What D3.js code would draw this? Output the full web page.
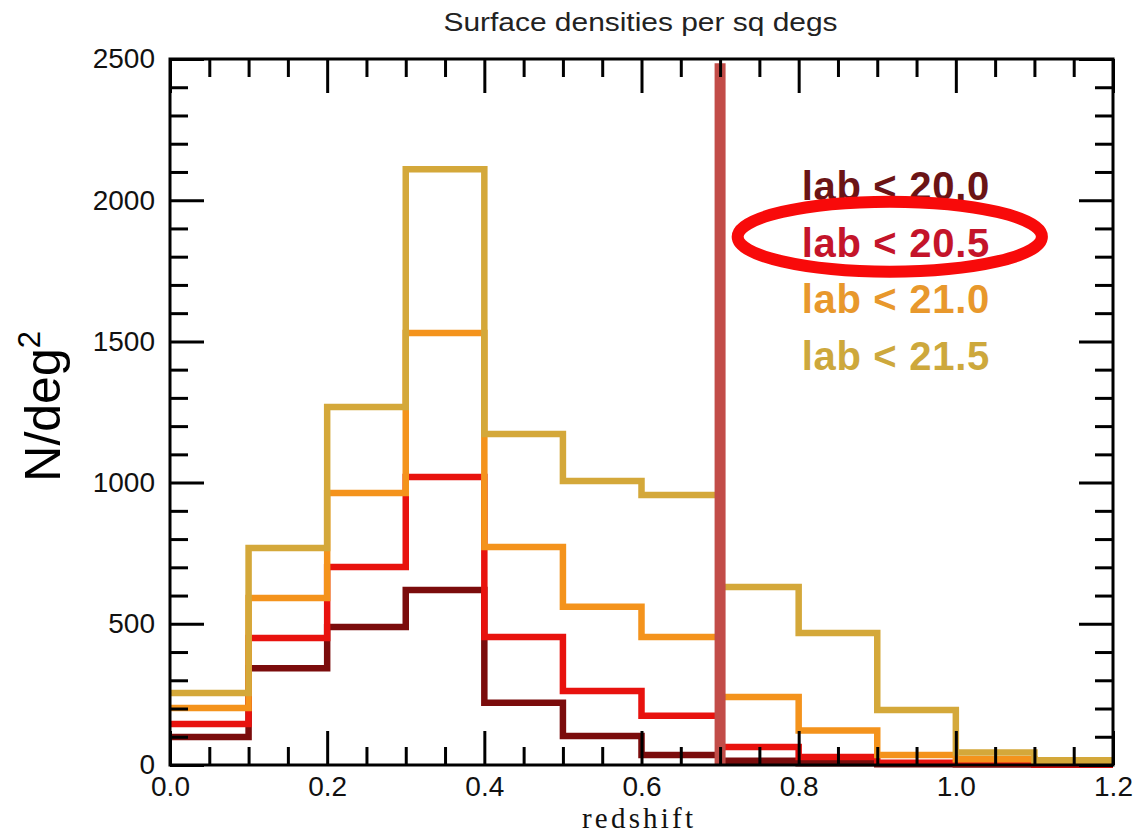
<!DOCTYPE html>
<html>
<head>
<meta charset="utf-8">
<script src="https://cdn.jsdelivr.net/npm/d3@7"></script>
<style>
  html, body { margin: 0; padding: 0; background: #fff; }
  svg { display: block; }
</style>
</head>
<body>
<svg id="chart" width="1138" height="833"></svg>
<script>
// ---------- data ----------
const binEdges = [0.0, 0.1, 0.2, 0.3, 0.4, 0.5, 0.6, 0.7, 0.8, 0.9, 1.0, 1.1, 1.2];
const lab200 = [99, 343, 489, 620, 220, 103, 35, 15, 6, 3, 2, 1];
const lab205 = [145, 450, 701, 1020, 453, 262, 174, 64, 28, 8, 4, 2];
const lab210 = [202, 591, 963, 1530, 772, 560, 453, 241, 122, 35, 20, 10];
const lab215 = [255, 768, 1268, 2110, 1172, 1006, 956, 630, 467, 195, 44, 17];
const seriesNames = ["lab < 20.0", "lab < 20.5", "lab < 21.0", "lab < 21.5"];
const xMajorTicks = [0.0, 0.2, 0.4, 0.6, 0.8, 1.0, 1.2];
const yMajorTicks = [0, 500, 1000, 1500, 2000, 2500];
const cutRedshift = 0.7;
const cutTop = 2485;
const highlighted = "lab < 20.5";
const titleText = "Surface densities per sq degs";
const xLabel = "redshift";

// ---------- styles ----------
const lineColors = ["#7b0c0c", "#e8120e", "#f4931c", "#d4a83a"];
const textColors = ["#6b1416", "#c4142a", "#e8982c", "#cda83c"];

const svg = d3.select("#chart");
const W = 1138, H = 833;
const m = { left: 170, top: 59, right: 25, bottom: 68 };
const pw = W - m.left - m.right, ph = H - m.top - m.bottom;

const x = d3.scaleLinear().domain([0, 1.2]).range([m.left, m.left + pw]);
const y = d3.scaleLinear().domain([0, 2500]).range([m.top + ph, m.top]);

const font = "'Liberation Sans', Arial, Helvetica, sans-serif";

// title
svg.append("text")
  .attr("x", x(0.6) - 1).attr("y", 31)
  .attr("text-anchor", "middle")
  .attr("font-family", font).attr("font-size", 26).attr("fill", "#222")
  .attr("textLength", 394).attr("lengthAdjust", "spacingAndGlyphs")
  .text(titleText);

// histograms
const series = [lab200, lab205, lab210, lab215];
const line = d3.line().x(d => x(d[0])).y(d => y(d[1])).curve(d3.curveStepAfter);
series.forEach((vals, i) => {
  const pts = vals.map((v, j) => [binEdges[j], v]);
  pts.push([binEdges[binEdges.length - 1], vals[vals.length - 1]]);
  svg.append("path")
    .attr("d", line(pts))
    .attr("fill", "none")
    .attr("stroke", lineColors[i])
    .attr("stroke-width", 6.5)
    .attr("stroke-linejoin", "miter")
    .attr("stroke-linecap", "butt");
});

// vertical cut line
svg.append("line")
  .attr("x1", x(cutRedshift)).attr("x2", x(cutRedshift))
  .attr("y1", y(cutTop)).attr("y2", y(0))
  .attr("stroke", "#c24c48").attr("stroke-width", 11);

// axes
const xMinor = d3.range(0, 1.2001, 0.05).filter(v => Math.abs(v * 5 - Math.round(v * 5)) > 1e-6);
const yMinor = d3.range(0, 2501, 100).filter(v => v % 500 !== 0);

function styleAxis(g) {
  g.select(".domain").remove();
  g.selectAll(".tick line").attr("stroke", "#000").attr("stroke-width", 3);
  g.selectAll("text").attr("font-family", font).attr("font-size", 28).attr("fill", "#111");
}

// bottom
svg.append("g").attr("transform", `translate(0,${y(0)})`)
  .call(d3.axisBottom(x).tickValues(xMajorTicks).tickSize(-34).tickPadding(11).tickFormat(d3.format(".1f")))
  .call(styleAxis);
svg.append("g").attr("transform", `translate(0,${y(0)})`)
  .call(d3.axisBottom(x).tickValues(xMinor).tickSize(-18).tickFormat(""))
  .call(styleAxis);
// top
svg.append("g").attr("transform", `translate(0,${y(2500)})`)
  .call(d3.axisTop(x).tickValues(xMajorTicks).tickSize(-34).tickFormat(""))
  .call(styleAxis);
svg.append("g").attr("transform", `translate(0,${y(2500)})`)
  .call(d3.axisTop(x).tickValues(xMinor).tickSize(-18).tickFormat(""))
  .call(styleAxis);
// left
svg.append("g").attr("transform", `translate(${x(0)},0)`)
  .call(d3.axisLeft(y).tickValues(yMajorTicks).tickSize(-34).tickPadding(15).tickFormat(d3.format("d")))
  .call(styleAxis);
svg.append("g").attr("transform", `translate(${x(0)},0)`)
  .call(d3.axisLeft(y).tickValues(yMinor).tickSize(-18).tickFormat(""))
  .call(styleAxis);
// right
svg.append("g").attr("transform", `translate(${x(1.2)},0)`)
  .call(d3.axisRight(y).tickValues(yMajorTicks).tickSize(-34).tickFormat(""))
  .call(styleAxis);
svg.append("g").attr("transform", `translate(${x(1.2)},0)`)
  .call(d3.axisRight(y).tickValues(yMinor).tickSize(-18).tickFormat(""))
  .call(styleAxis);

// frame
svg.append("rect")
  .attr("x", x(0)).attr("y", y(2500))
  .attr("width", x(1.2) - x(0)).attr("height", y(0) - y(2500))
  .attr("fill", "none").attr("stroke", "#000").attr("stroke-width", 3);

// x label
svg.append("text")
  .attr("x", x(0.6) - 4).attr("y", 828)
  .attr("text-anchor", "middle")
  .attr("font-family", "'Liberation Serif', 'DejaVu Serif', serif")
  .attr("font-size", 29).attr("fill", "#111")
  .attr("textLength", 111).attr("lengthAdjust", "spacing")
  .text(xLabel);

// y label
const yl = svg.append("text")
  .attr("transform", `translate(60,${y(1270)}) rotate(-90)`)
  .attr("text-anchor", "middle")
  .attr("font-family", font).attr("font-size", 50).attr("fill", "#000");
yl.append("tspan").text("N/deg");
yl.append("tspan").attr("font-size", 31).attr("dy", -20).text("2");

// legend
const legendItems = svg.append("g").selectAll("text")
  .data(seriesNames).join("text")
  .attr("x", x(0.8) + 3)
  .attr("y", (d, i) => y(2000 - i * 200))
  .attr("font-family", font).attr("font-weight", "bold")
  .attr("font-size", 40).attr("letter-spacing", 0.7)
  .attr("fill", (d, i) => textColors[i])
  .text(d => d);

// highlight ellipse around the chosen legend entry
legendItems.filter(d => d === highlighted).each(function () {
  const b = this.getBBox();
  svg.append("ellipse")
    .attr("cx", b.x + b.width / 2 - 6)
    .attr("cy", b.y + b.height / 2 - 6)
    .attr("rx", b.width / 2 + 58)
    .attr("ry", b.height / 2 + 13)
    .attr("fill", "none")
    .attr("stroke", "#f80a0a")
    .attr("stroke-width", 12);
});
</script>
</body>
</html>
